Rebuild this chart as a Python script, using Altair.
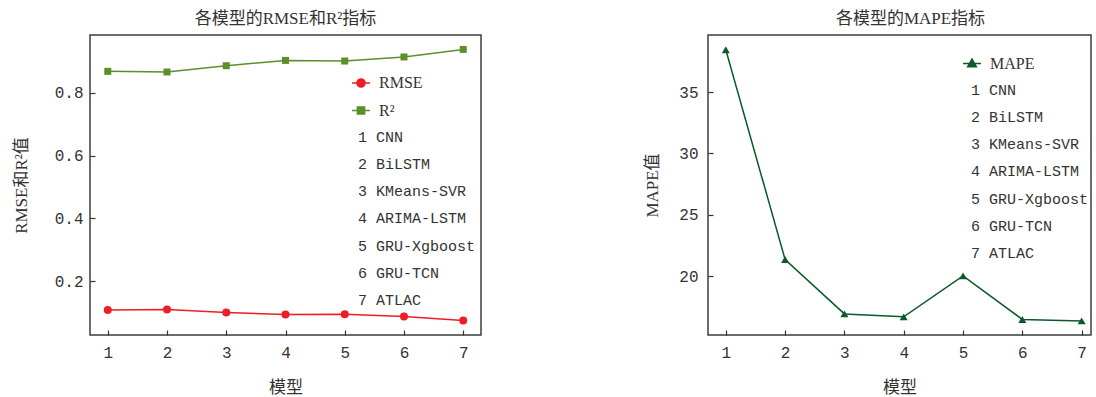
import altair as alt
import pandas as pd

# ---------------- data ----------------
models = [1, 2, 3, 4, 5, 6, 7]
model_names = ["CNN", "BiLSTM", "KMeans-SVR", "ARIMA-LSTM", "GRU-Xgboost", "GRU-TCN", "ATLAC"]
rmse = [0.108, 0.109, 0.100, 0.093, 0.094, 0.087, 0.074]
r2 = [0.869, 0.867, 0.887, 0.904, 0.902, 0.915, 0.939]
mape = [38.45, 21.35, 16.92, 16.68, 20.02, 16.47, 16.35]
left_yticks = [0.2, 0.4, 0.6, 0.8]
right_yticks = [20, 25, 30, 35]
xticks = models
model_labels = [f"{i} {n}" for i, n in zip(models, model_names)]

left_df = pd.DataFrame({
    "model": models * 2,
    "series": ["RMSE"] * 7 + ["R²"] * 7,
    "value": rmse + r2,
})
right_df = pd.DataFrame({"model": models, "series": ["MAPE"] * 7, "value": mape})
labels_df = pd.DataFrame({"label": model_labels})

# ---------------- styles ----------------
CJK = "Liberation Serif, Noto Sans CJK SC"
MONO = "Liberation Mono"
SERIF = "Liberation Serif"
RED = "#EE1C25"
OLIVE = "#5B8F29"
DKGREEN = "#0A5A2A"
TXT = "#333333"

# legend symbol paths: line + marker
P_CIRCLE = "M-1,0L1,0M-0.45,0A0.45,0.45 0 1,0 0.45,0A0.45,0.45 0 1,0 -0.45,0Z"
P_SQUARE = "M-1,0L1,0M-0.4,-0.4L0.4,-0.4L0.4,0.4L-0.4,0.4Z"
P_TRI = "M-1,0L1,0M0,-0.5L0.48,0.35L-0.48,0.35Z"


def legend_a(xy):
    return alt.Legend(orient="none", legendX=xy[0], legendY=xy[1],
                      title=None, symbolSize=324, symbolStrokeWidth=1.5,
                      symbolOpacity=1, labelFont=SERIF, labelFontSize=16,
                      labelColor=TXT, labelOffset=8, rowPadding=9.5, padding=0)


def make_panel(df, ydomain, yticks, yfmt, ytitle, xdomain, width, series_specs,
               legA_xy, legB_xy, title, title_dx, ylabpad, ytitlepad):
    x_enc = alt.X("model:Q",
                  scale=alt.Scale(domain=xdomain, nice=False, zero=False),
                  axis=alt.Axis(values=xticks, format="d", title="模型", offset=-5,
                                ticks=True, tickSize=5, domain=False, grid=False,
                                labelPadding=9, titlePadding=19, labelFont=MONO,
                                labelFontSize=16, labelColor=TXT, titleFont=CJK,
                                titleFontSize=17, titleFontWeight="normal", titleColor=TXT,
                                tickColor="#333333", tickWidth=1.2))
    y_enc = alt.Y("value:Q",
                  scale=alt.Scale(domain=ydomain, nice=False, zero=False),
                  axis=alt.Axis(values=yticks, format=yfmt, title=ytitle, offset=-5,
                                ticks=True, tickSize=5, domain=False, grid=False,
                                labelPadding=ylabpad, titlePadding=ytitlepad, labelFont=MONO,
                                labelFontSize=16, labelColor=TXT, titleFont=CJK,
                                titleFontSize=17, titleFontWeight="normal", titleColor=TXT,
                                tickColor="#333333", tickWidth=1.2))
    base = alt.Chart(df).encode(x=x_enc, y=y_enc)
    layers = []
    names = []
    colors = []
    paths = []
    for name, color, shape, size, path in series_specs:
        sub = base.transform_filter(alt.datum.series == name)
        layers.append(sub.mark_line(color=color, strokeWidth=1.5))
        layers.append(sub.mark_point(color=color, shape=shape, size=size, filled=True, opacity=1))
        names.append(name)
        colors.append(color)
        paths.append(path)

    legA = alt.Chart(df).mark_point(clip=True, filled=True).encode(
        x=alt.value(-200), y=alt.value(-200),
        fill=alt.Fill("series:N", scale=alt.Scale(domain=names, range=colors),
                      legend=legend_a(legA_xy)),
        stroke=alt.Stroke("series:N", scale=alt.Scale(domain=names, range=colors),
                          legend=legend_a(legA_xy)),
        shape=alt.Shape("series:N", scale=alt.Scale(domain=names, range=paths),
                        legend=legend_a(legA_xy)),
    )
    legB = alt.Chart(labels_df).mark_point(clip=True).encode(
        x=alt.value(-200), y=alt.value(-200),
        strokeDash=alt.StrokeDash("label:N", scale=alt.Scale(domain=model_labels),
                                  legend=alt.Legend(orient="none", legendX=legB_xy[0],
                                                    legendY=legB_xy[1], title=None,
                                                    symbolSize=1, symbolOpacity=0,
                                                    labelFont=MONO, labelFontSize=15,
                                                    labelColor=TXT, labelOffset=0,
                                                    rowPadding=11.3, padding=0, labelLimit=400)),
    )
    return alt.layer(*layers, legA, legB).resolve_scale(
        fill="independent", stroke="independent", shape="independent", strokeDash="independent"
    ).properties(
        width=width, height=300,
        title=alt.TitleParams(title, font=CJK, fontSize=17, fontWeight="normal", color=TXT,
                              anchor="middle", frame="group", offset=7, dx=title_dx),
    )


left = make_panel(
    left_df, [0.028, 0.985], left_yticks, ".1f", "RMSE和R²值", [0.7, 7.3], 391,
    [("RMSE", RED, "circle", 64, P_CIRCLE), ("R²", OLIVE, "square", 49, P_SQUARE)],
    (261, 38), (253, 94), "各模型的RMSE和R²指标", 0, 7, 24,
)
right = make_panel(
    right_df, [15.2, 39.65], right_yticks, "d", "MAPE值", [0.7, 7.158], 383,
    [("MAPE", DKGREEN, "triangle-up", 64, P_TRI)],
    (254, 18.5), (248, 47), "各模型的MAPE指标", 11, 10, 17,
)

chart = alt.hconcat(left, right, spacing=161).resolve_scale(
    fill="independent", stroke="independent", shape="independent", strokeDash="independent",
    x="independent", y="independent"
).resolve_legend(
    fill="independent", stroke="independent", shape="independent", strokeDash="independent"
).properties(
    padding={"left": 11, "top": 9, "right": 0, "bottom": 0},
    background="white",
).configure_view(
    stroke="#3c3c3c", strokeWidth=1.5
)

chart.save("out.html", embed_options={"renderer": "svg", "actions": False})
